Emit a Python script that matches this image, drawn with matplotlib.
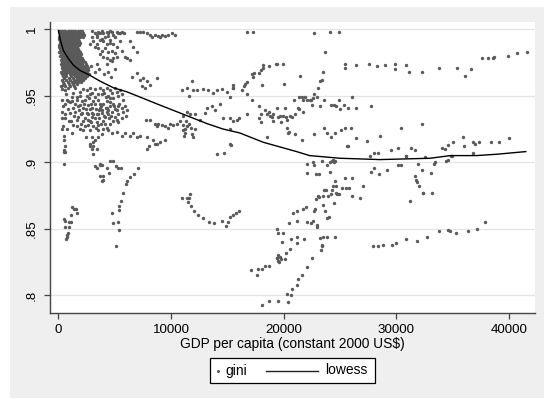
import matplotlib
matplotlib.use('Agg')
import matplotlib.pyplot as plt
from matplotlib.patches import Rectangle
from matplotlib.lines import Line2D

plt.rcParams['font.family'] = ['Liberation Sans', 'DejaVu Sans']

# --- data: (GDP per capita, gini) ---

# dense block near zero income, one row per gini level
near0_gini = [0.999, 0.9975, 0.996, 0.9945, 0.993, 0.9915, 0.990, 0.9885, 0.987, 0.9855,
              0.984, 0.9825, 0.981, 0.9795, 0.978, 0.9765, 0.975, 0.9735, 0.972, 0.9705,
              0.969, 0.9675, 0.966, 0.9645, 0.963, 0.9615, 0.960, 0.9585, 0.957]
near0_gdp = [
    [40, 150, 300, 450, 600, 800, 950, 1100, 1300, 1500, 1700, 1900, 2100],
    [100, 230, 380, 530, 700, 870, 1020, 1200, 1400, 1600, 1800, 2000, 2200],
    [100, 250, 420, 560, 720, 880, 1050, 1250, 1400, 1600, 1800, 2000, 2300],
    [30, 180, 330, 490, 640, 800, 960, 1130, 1320, 1500, 1700, 1900, 2150],
    [50, 200, 380, 520, 680, 850, 1000, 1180, 1350, 1550, 1750],
    [100, 260, 420, 580, 740, 900, 1080, 1260, 1440, 1650, 1850],
    [150, 300, 460, 620, 780, 950, 1120, 1300, 1480, 1700, 1950],
    [40, 200, 360, 520, 690, 860, 1020, 1200, 1380, 1600, 1820],
    [80, 240, 400, 580, 730, 900, 1060, 1240, 1420, 1650],
    [130, 300, 460, 620, 780, 950, 1120, 1300, 1500, 1720],
    [180, 350, 510, 670, 830, 1000, 1170, 1350, 1580, 1800],
    [80, 260, 430, 590, 750, 910, 1080, 1260, 1450, 1680, 1900],
    [250, 420, 600, 760, 920, 1100, 1280, 1480, 1700, 2000],
    [170, 350, 520, 690, 850, 1020, 1200, 1400, 1620, 1880],
    [300, 480, 650, 820, 980, 1150, 1330, 1550, 1780, 2050],
    [230, 400, 570, 740, 900, 1070, 1250, 1450, 1680, 1950, 2200],
    [350, 530, 700, 880, 1050, 1220, 1400, 1600, 1850, 2100, 2350],
    [200, 380, 560, 720, 890, 1060, 1240, 1430, 1650, 1880, 2130, 2400],
    [280, 460, 640, 800, 980, 1150, 1330, 1520, 1750, 2000, 2250, 2500],
    [300, 480, 660, 840, 1020, 1200, 1380, 1600, 1830, 2080, 2330, 2600],
    [380, 560, 740, 920, 1100, 1280, 1460, 1700, 1950, 2200, 2450, 2650],
    [250, 420, 600, 780, 960, 1150, 1350, 1550, 1780, 2030, 2280, 2550],
    [330, 500, 680, 1050, 1250, 1450, 1650, 1900, 2150, 2400, 2700],
    [380, 700, 1100, 1450, 1720, 1980, 2230, 2500],
    [450, 900, 1300, 1600, 1850, 2100, 2350],
    [300, 650, 1050, 1400, 1650, 1900, 2150],
    [400, 800, 1200, 1500, 1750, 2000],
    [500, 900, 1300, 1600],
    [200, 600, 1000, 1400],
]

upper_left = [
    (2945, .994), (3241, .997), (3389, .994), (3537, .998), (3685, .997), (3833, .999),
    (3981, .997), (4129, .994), (4277, .998), (4425, .997), (4573, .999), (4721, .998),
    (4869, .996), (5017, .994), (5165, .998), (5313, .997), (3093, .991), (3389, .989),
    (3685, .992), (3981, .991), (4277, .989), (4573, .992), (4869, .989), (5165, .987),
    (3537, .986), (3833, .984), (4129, .986), (4425, .983), (4721, .984), (5017, .982),
    (3685, .981), (3981, .979), (4277, .978), (4573, .977), (4869, .978), (5165, .979),
    (4277, .974), (4721, .976), (3241, .987), (5461, .991), (2797, .989), (3400, .996),
    (3900, .993), (4400, .995), (4600, .990), (3000, .999), (5600, .998), (5800, .997),
    (2900, .972), (3200, .968), (3600, .970), (4000, .966), (4400, .968), (4700, .964),
    (3400, .974), (5000, .970),
]

mid_left = [
    (429, .958), (577, .954), (873, .956), (1317, .952), (1613, .949), (2205, .955),
    (2501, .954), (2797, .956), (3241, .955), (3685, .956), (3981, .954), (4277, .956),
    (4573, .954), (4721, .952), (5017, .956), (5165, .953), (2797, .951), (3241, .949),
    (3833, .951), (4425, .950), (4869, .948), (5313, .950), (5609, .951), (5461, .954),
    (281, .947), (577, .944), (725, .947), (1169, .946), (1613, .947), (1909, .943),
    (2353, .947), (2649, .943), (3093, .946), (3537, .947), (3981, .944), (4277, .946),
    (4573, .942), (4869, .944), (5313, .942), (5609, .941), (4277, .941), (3685, .941),
    (2945, .941), (2205, .941), (1317, .941), (429, .942),
    (281, .938), (577, .936), (1021, .937), (1465, .938), (1761, .934), (2057, .937),
    (2353, .933), (2649, .936), (2945, .937), (3241, .933), (3537, .936), (3833, .937),
    (4129, .934), (4425, .936), (4721, .938), (5017, .934), (5313, .936), (1613, .932),
    (2205, .931), (2797, .931), (3389, .930), (3981, .931), (4573, .929), (5165, .932),
    (5609, .933), (281, .933),
    (429, .927), (725, .925), (1317, .928), (1909, .925), (2353, .927), (2797, .924),
    (3093, .927), (3537, .924), (3981, .925), (4425, .924), (4721, .922), (5165, .923),
    (5609, .920), (2945, .919), (3093, .915), (2797, .914), (3241, .917), (488, .920),
    (488, .917), (3537, .919),
    (2797, .912), (2945, .910), (3093, .912), (3389, .910), (547, .912), (488, .909),
    (577, .908), (518, .899),
    (1100, .931), (1500, .944), (1800, .939), (2100, .946), (2400, .940), (2600, .932),
    (2900, .944), (3100, .936), (3300, .940), (3500, .928), (3700, .944), (3900, .939),
    (4100, .929), (4300, .938), (4600, .945), (4800, .931), (5000, .940), (2000, .929),
    (2700, .948), (3600, .933), (4200, .949), (1200, .949), (700, .951), (300, .955),
    (1900, .953), (3000, .952), (4500, .933), (5400, .944),
    (5757, .947), (5905, .942), (6112, .939), (5994, .935), (5698, .938),
    (800, .940), (1000, .945), (1400, .935), (1700, .942), (2000, .936), (2300, .944),
    (2500, .937), (2800, .940), (3000, .934), (3200, .944), (3400, .936), (3600, .939),
    (3800, .942), (4000, .935), (4200, .941), (4400, .939), (4700, .935), (4900, .942),
    (5200, .939), (2600, .928), (3300, .926), (3800, .929), (4300, .926), (2200, .924),
    (1600, .927), (900, .931), (1200, .922), (4600, .948), (3500, .951), (2500, .950),
    (1500, .956), (800, .946), (5300, .930), (3900, .921), (2400, .919), (4000, .952),
    (1900, .950), (600, .933), (300, .925), (2900, .930),
]

middle = [
    (6497, .964), (6941, .967), (7237, .962), (7533, .963), (7829, .961), (8125, .958),
    (8717, .963), (7681, .956), (7385, .957),
    (5461, .997), (6349, .991), (6645, .987), (6941, .983), (6112, .978), (6349, .977),
    (5905, .979), (5609, .984),
    (6941, .998), (7237, .998), (7533, .998), (7829, .997), (8125, .996), (8569, .996),
    (8865, .995), (9161, .996), (9457, .995), (9753, .996), (10049, .997), (10345, .996),
    (8273, .994), (9013, .994),
    (10990, .954), (11381, .956), (11825, .961), (11973, .954), (12269, .954), (12861, .955),
    (13305, .954), (13749, .952), (14045, .954), (14489, .955), (14933, .953), (15525, .956),
    (15229, .949), (11607, .950), (15460, .958),
    (11381, .938), (11677, .936), (12121, .936), (12565, .932), (13009, .937), (13157, .941),
    (13601, .942), (13897, .939), (14341, .944), (14637, .933), (15229, .933), (15821, .932),
    (11100, .935), (11300, .931), (11550, .929), (11750, .926), (12100, .925), (11900, .921),
    (11200, .925),
    (7770, .932), (8125, .932), (8569, .929), (8717, .927), (8865, .929), (9161, .928),
    (9457, .927), (9753, .926), (9901, .929), (10197, .928), (10493, .929), (10789, .931),
    (11025, .928), (11085, .924), (11233, .922), (11381, .927), (11144, .920), (7237, .920),
    (6941, .919), (6645, .922), (6349, .920), (5905, .922), (7829, .919), (8421, .917),
    (8717, .914), (9013, .915), (9457, .917), (8066, .912), (7829, .910), (8569, .914),
    (11973, .919), (14045, .906), (14726, .907), (15300, .913),
]

low_left = [
    (3034, .906), (3241, .897), (3389, .896), (3685, .899), (3685, .898), (3833, .898),
    (3981, .890), (3833, .886), (3981, .887), (3685, .890), (4277, .896), (4514, .892),
    (4573, .901), (4810, .901), (5106, .897), (5254, .896), (5550, .896), (7089, .896),
    (5757, .877), (5994, .884), (6112, .886), (6349, .889), (6734, .891),
    (5550, .871), (5372, .867), (5343, .864), (4751, .862), (4869, .854), (5283, .855),
    (5372, .849), (5135, .837),
    (488, .857), (577, .851), (607, .856), (962, .855), (1080, .855), (1139, .860),
    (1228, .866), (1406, .865), (1524, .865), (1613, .862), (903, .851), (814, .847),
    (784, .845), (725, .844), (666, .842), (518, .908),
    (10967, .873), (11381, .873), (11618, .873), (11677, .876), (11529, .870), (11766, .867),
    (12062, .863), (12358, .860), (12861, .858), (13364, .855), (13838, .854), (14489, .856),
    (14874, .852), (15081, .855), (15229, .859), (15466, .860), (15732, .862), (16028, .863),
]

right_upper = [
    (16770, .998), (17240, .998), (22660, .997), (24110, .998), (24880, .998), (23700, .983),
    (25440, .974), (25440, .971), (26420, .973), (27540, .974), (28310, .972), (28990, .973),
    (29850, .974), (29850, .970), (30830, .973), (31150, .968), (32280, .968), (33790, .971),
    (35420, .971), (36100, .965), (36660, .970), (37580, .978), (38170, .978), (38610, .978),
    (38700, .979), (39900, .980), (40700, .982), (41570, .983),
    (15500, .956), (16300, .954), (16450, .957), (16560, .959), (16770, .960), (17150, .966),
    (17300, .964), (17360, .967), (17800, .967), (17950, .969), (18130, .973), (18130, .971),
    (18690, .972), (19280, .974), (19370, .974), (19970, .974), (18070, .958), (20000, .959),
    (21470, .965),
]

right_mid = [
    (16770, .951), (16770, .936), (16060, .933), (15500, .931), (15230, .925), (15230, .914),
    (17180, .947), (17780, .942), (17780, .933), (18000, .936), (18000, .930), (18300, .939),
    (18480, .936), (18720, .938), (18780, .935), (18930, .934), (19080, .931), (19020, .936),
    (19430, .941), (19520, .934), (19670, .935), (19730, .930), (19910, .935), (20090, .941),
    (20200, .934), (20260, .932), (20320, .926), (20560, .935), (20470, .923), (20730, .934),
    (21030, .936), (21300, .941), (21390, .940), (20940, .947), (21390, .949), (21590, .949),
    (21740, .947), (21890, .949), (22040, .947), (22330, .947), (22480, .943), (22630, .948),
    (22690, .951), (21680, .938),
    (22450, .947), (22990, .949), (23070, .956), (23220, .961), (23370, .962), (23520, .968),
    (23220, .942), (23610, .947), (24200, .943), (24460, .943), (24640, .942), (24880, .947),
    (25000, .940), (25350, .943), (25740, .941), (26060, .949), (26420, .941), (27720, .942),
    (23610, .926), (23810, .922), (24170, .919), (24520, .922), (25060, .924), (25440, .926),
    (25970, .926), (20350, .922), (21000, .921), (21650, .917), (22690, .921), (18480, .919),
    (25740, .912), (26420, .918), (27370, .916), (28550, .920), (30440, .926), (32310, .929),
    (29500, .909), (30180, .911), (30830, .905), (31300, .911), (31660, .909), (27660, .905),
    (28020, .907), (28370, .907), (25590, .912), (34050, .911), (34320, .910), (34620, .913),
    (34820, .905), (35000, .915), (35890, .919), (36010, .912), (36840, .915), (36990, .914),
    (37370, .915), (38380, .915), (39150, .915), (39970, .918), (36780, .907), (32540, .904),
]

right_low = [
    (22040, .899), (22630, .900), (22690, .898), (23370, .901), (23810, .898), (24110, .900),
    (24260, .901), (24410, .902), (22100, .892), (22840, .891), (23160, .891), (24110, .893),
    (24440, .900), (24560, .901),
    (27720, .893), (28020, .896), (28490, .891), (29140, .894), (30180, .898), (30380, .898),
    (30860, .905), (31690, .890), (31750, .887), (31810, .885), (32050, .882), (32340, .877),
    (32400, .877), (33140, .877), (32250, .894), (33050, .892), (31230, .871),
    (31950, .899), (33340, .899), (33430, .900), (34410, .901), (34620, .902), (34910, .905),
    (23070, .875), (23570, .879), (23720, .879), (23960, .875), (24170, .876), (24290, .879),
    (24410, .882), (24640, .882), (24640, .877), (24760, .876), (24880, .876), (24550, .886),
    (24500, .869), (25150, .881), (25440, .888), (25530, .881), (25800, .881), (26030, .888),
    (26060, .875), (26770, .873), (27070, .882),
    (20500, .854), (20850, .862), (21150, .863), (21150, .856), (21680, .865), (21980, .866),
    (22100, .855), (22390, .854), (22570, .856), (22690, .863), (22780, .865), (22860, .872),
    (22990, .851), (22990, .853), (23160, .874), (23460, .875), (23520, .868), (23670, .863),
    (23810, .858), (24050, .859),
    (19370, .850), (19520, .847), (19960, .847), (19820, .840), (19370, .828), (19520, .830),
    (19670, .829), (19730, .827), (20110, .827), (20200, .832), (20560, .835), (20650, .842),
    (21150, .839), (21210, .844), (21800, .842), (19520, .826), (19400, .828), (19600, .825),
    (18100, .793), (18690, .796), (19520, .796), (20350, .795), (20320, .801), (20650, .800),
    (20760, .805), (21150, .808), (21300, .812), (21650, .815), (22100, .821), (22480, .828),
    (23310, .834), (23370, .837), (23430, .838), (23220, .843), (23520, .844), (23810, .844),
    (24550, .844), (17060, .819), (17600, .815), (17750, .820), (18040, .820), (18340, .822),
    (18720, .822),
    (27900, .837), (28370, .837), (28850, .838), (29590, .838), (29970, .839), (30830, .842),
    (31800, .841), (32750, .844), (33790, .848), (34620, .849), (34760, .848), (35300, .847),
    (36330, .848), (37190, .850), (37900, .855),
]

# lowess curve as drawn
lowess_gdp = [0, 40, 190, 430, 870, 1320, 1910, 2650, 3680, 4870, 6050, 7240, 8700,
              10200, 11700, 13200, 14600, 16100, 18190, 21150, 22300, 25000, 28550,
              33000, 34800, 37100, 38900, 41500]
lowess_gini = [0.999, 0.997, 0.991, 0.984, 0.978, 0.973, 0.969, 0.966, 0.961, 0.956,
               0.953, 0.949, 0.944, 0.939, 0.934, 0.929, 0.925, 0.922, 0.915, 0.908,
               0.905, 0.903, 0.902, 0.903, 0.905, 0.905, 0.906, 0.908]

gdp = []
gini = []
for g, xs in zip(near0_gini, near0_gdp):
    gdp += xs
    gini += [g] * len(xs)
for grp in [upper_left, mid_left, middle, low_left, right_upper, right_mid, right_low]:
    gdp += [p[0] for p in grp]
    gini += [p[1] for p in grp]

W, H = 544, 399
fig = plt.figure(figsize=(W / 100, H / 100), dpi=100)
fig.patch.set_facecolor('white')
fig.add_artist(Rectangle((10 / W, 1 / H), 534 / W, 391 / H, transform=fig.transFigure,
                         facecolor='#efefef', edgecolor='none', zorder=-10))

ax = fig.add_axes([50.3 / W, 1 - 312.7 / H, (535 - 50.3) / W, (312.7 - 21.5) / H])
ax.set_facecolor('white')

ax.scatter(gdp, gini, s=6, color='#5a5a5a', linewidths=0, zorder=2)
ax.plot(lowess_gdp, lowess_gini, color='black', lw=1.0, zorder=3)

ax.set_xlim(-728, 42318)
ax.set_ylim(0.7869, 1.0058)

ax.set_xticks([0, 10000, 20000, 30000, 40000])
ax.set_xticklabels(['0', '10000', '20000', '30000', '40000'], fontsize=9.6)
ax.set_yticks([0.8, 0.85, 0.9, 0.95, 1.0])
ax.set_yticklabels(['.8', '.85', '.9', '.95', '1'], fontsize=9.6, rotation=90, va='center')
ax.tick_params(axis='both', direction='out', length=4, width=0.9, color='#444444', pad=4)
ax.tick_params(axis='y', pad=5)

ax.grid(axis='y', color='#e4e4e4', lw=0.9, zorder=0)
ax.set_axisbelow(True)
for s in ['top', 'right']:
    ax.spines[s].set_visible(False)
for s in ['left', 'bottom']:
    ax.spines[s].set_color('#444444')
    ax.spines[s].set_linewidth(1.0)

ax.set_xlabel(r'GDP per capita (constant 2000 US\$)', fontsize=9.9, labelpad=0.5)

# legend box
fig.add_artist(Rectangle((210 / W, 1 - 383.3 / H), 165 / W, 25.6 / H, transform=fig.transFigure,
                         facecolor='white', edgecolor='black', lw=0.9))
ly = 1 - 370.5 / H
fig.add_artist(Line2D([217.5 / W], [ly], transform=fig.transFigure, marker='o', ms=2.2,
                      color='#5a5a5a', mec='none', ls='none'))
fig.text(225 / W, ly, 'gini', fontsize=10, va='center', ha='left')
fig.add_artist(Line2D([265.6 / W, 317.7 / W], [ly, ly], transform=fig.transFigure,
                      color='#222222', lw=1.0))
fig.text(324.7 / W, ly, 'lowess', fontsize=10, va='center', ha='left')

fig.savefig('out.png', dpi=100)
